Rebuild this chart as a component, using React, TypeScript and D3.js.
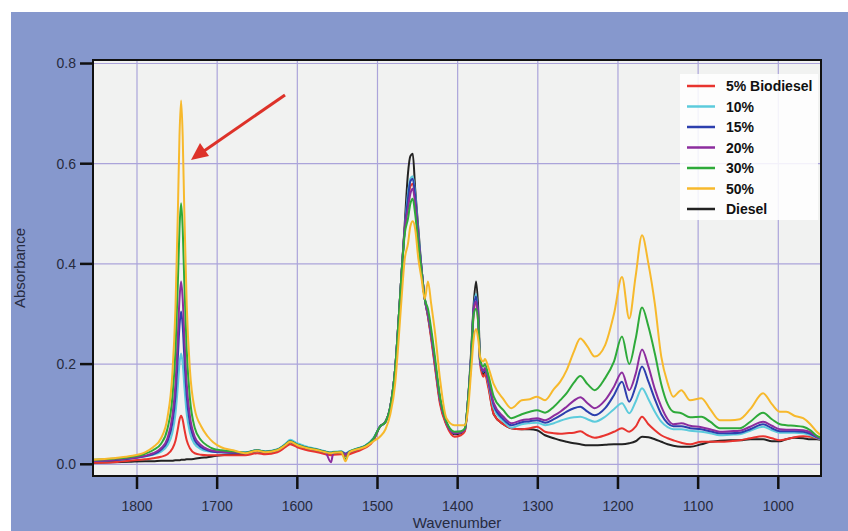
import React from "react";
import * as d3 from "d3";

const wavenumbers = [
  1855, 1830, 1810, 1790, 1780, 1770, 1762, 1756, 1752, 1749, 1747, 1745, 1743, 1741, 1738, 1734, 1728, 1720, 1712, 1705, 1695, 1680,
  1665, 1650, 1640, 1625, 1615, 1609, 1600, 1590, 1575, 1565, 1558, 1555, 1545, 1540, 1535, 1525, 1515, 1505,
  1497, 1490, 1484, 1478, 1474, 1470, 1466, 1462, 1459, 1456, 1453, 1449, 1445, 1441, 1437, 1433, 1428, 1422, 1414, 1404, 1396, 1391, 1387, 1383, 1380, 1377, 1374, 1372, 1368, 1366, 1362,
  1355, 1343, 1333, 1320, 1310, 1301, 1291, 1280, 1272, 1264, 1255, 1247, 1238, 1229, 1216, 1205, 1195, 1186, 1178, 1170, 1162, 1154, 1146, 1138, 1131, 1121, 1110, 1096, 1085, 1073, 1060, 1048, 1035, 1019, 1008, 998, 990, 980, 969, 960, 952, 947,
];

const diesel = [
  0.003, 0.004, 0.005, 0.006, 0.006, 0.007, 0.007, 0.007, 0.008, 0.008, 0.008, 0.009, 0.009, 0.009, 0.010, 0.010, 0.011, 0.013, 0.014, 0.016, 0.018, 0.020,
  0.021, 0.026, 0.023, 0.027, 0.037, 0.044, 0.037, 0.032, 0.027, 0.023, 0.021, 0.022, 0.023, 0.019, 0.023, 0.029, 0.035, 0.049,
  0.075, 0.085, 0.115, 0.19, 0.28, 0.38, 0.48, 0.58, 0.615, 0.62, 0.55, 0.47, 0.39, 0.33, 0.295, 0.255, 0.195, 0.125, 0.08, 0.06, 0.062, 0.068, 0.13, 0.23, 0.32, 0.365, 0.30, 0.21, 0.18, 0.185, 0.16,
  0.1, 0.08, 0.072, 0.07, 0.07, 0.068, 0.058, 0.052, 0.048, 0.045, 0.042, 0.04, 0.038, 0.038, 0.039, 0.04, 0.04, 0.042, 0.046, 0.055, 0.054, 0.05, 0.045, 0.04, 0.037, 0.035, 0.035, 0.04, 0.045, 0.047, 0.048, 0.048, 0.05, 0.05, 0.046, 0.046, 0.05, 0.053, 0.052, 0.05, 0.05, 0.049,
];

const bio5 = [
  0.003, 0.004, 0.007, 0.010, 0.012, 0.015, 0.020, 0.031, 0.047, 0.071, 0.089, 0.097, 0.089, 0.071, 0.048, 0.032, 0.022, 0.019, 0.018, 0.018, 0.018, 0.018,
  0.018, 0.022, 0.020, 0.024, 0.034, 0.040, 0.034, 0.029, 0.024, 0.020, 0.018, 0.019, 0.020, 0.016, 0.020, 0.026, 0.033, 0.047,
  0.075, 0.085, 0.115, 0.19, 0.28, 0.38, 0.47, 0.52, 0.555, 0.56, 0.53, 0.45, 0.385, 0.33, 0.295, 0.25, 0.19, 0.12, 0.078, 0.055, 0.058, 0.066, 0.125, 0.21, 0.30, 0.325, 0.27, 0.20, 0.175, 0.18, 0.155,
  0.1, 0.08, 0.072, 0.07, 0.072, 0.075, 0.065, 0.062, 0.061, 0.062, 0.063, 0.066, 0.058, 0.053, 0.058, 0.065, 0.072, 0.065, 0.075, 0.095, 0.08, 0.068, 0.058, 0.052, 0.048, 0.043, 0.040, 0.045, 0.045, 0.045, 0.046, 0.048, 0.052, 0.056, 0.052, 0.048, 0.05, 0.054, 0.056, 0.055, 0.052, 0.05,
];

const bio10 = [
  0.008, 0.009, 0.012, 0.016, 0.019, 0.025, 0.038, 0.062, 0.101, 0.157, 0.201, 0.221, 0.201, 0.157, 0.101, 0.063, 0.040, 0.030, 0.026, 0.025, 0.024, 0.024,
  0.024, 0.028, 0.026, 0.030, 0.041, 0.049, 0.042, 0.036, 0.030, 0.026, 0.024, 0.025, 0.026, 0.022, 0.026, 0.032, 0.038, 0.053,
  0.075, 0.085, 0.115, 0.19, 0.28, 0.38, 0.47, 0.54, 0.57, 0.575, 0.54, 0.46, 0.39, 0.33, 0.30, 0.26, 0.20, 0.13, 0.083, 0.062, 0.064, 0.07, 0.13, 0.22, 0.31, 0.34, 0.28, 0.205, 0.185, 0.19, 0.165,
  0.112, 0.086, 0.073, 0.08, 0.082, 0.083, 0.078, 0.082, 0.087, 0.091, 0.094, 0.095, 0.09, 0.085, 0.095, 0.11, 0.122, 0.102, 0.125, 0.152, 0.13, 0.105, 0.085, 0.074, 0.07, 0.07, 0.067, 0.065, 0.062, 0.058, 0.059, 0.06, 0.067, 0.075, 0.068, 0.063, 0.063, 0.063, 0.062, 0.058, 0.053, 0.05,
];

const bio15 = [
  0.007, 0.008, 0.011, 0.016, 0.020, 0.029, 0.046, 0.081, 0.136, 0.215, 0.276, 0.305, 0.276, 0.215, 0.136, 0.082, 0.048, 0.034, 0.028, 0.025, 0.024, 0.023,
  0.023, 0.028, 0.025, 0.029, 0.039, 0.046, 0.039, 0.034, 0.029, 0.025, 0.023, 0.024, 0.025, 0.021, 0.025, 0.031, 0.037, 0.051,
  0.075, 0.085, 0.115, 0.19, 0.28, 0.38, 0.47, 0.53, 0.565, 0.57, 0.535, 0.455, 0.39, 0.33, 0.30, 0.26, 0.20, 0.13, 0.083, 0.062, 0.064, 0.07, 0.13, 0.22, 0.31, 0.335, 0.28, 0.205, 0.185, 0.19, 0.167,
  0.118, 0.09, 0.078, 0.084, 0.086, 0.088, 0.083, 0.09, 0.097, 0.105, 0.112, 0.115, 0.105, 0.098, 0.112, 0.138, 0.165, 0.125, 0.155, 0.195, 0.165, 0.13, 0.1, 0.082, 0.076, 0.076, 0.072, 0.07, 0.066, 0.062, 0.062, 0.063, 0.07, 0.08, 0.072, 0.066, 0.066, 0.066, 0.065, 0.061, 0.054, 0.051,
];

const bio20 = [
  0.007, 0.009, 0.012, 0.017, 0.022, 0.032, 0.052, 0.095, 0.161, 0.257, 0.330, 0.365, 0.330, 0.257, 0.161, 0.096, 0.055, 0.038, 0.030, 0.027, 0.025, 0.024,
  0.022, 0.027, 0.024, 0.028, 0.038, 0.045, 0.038, 0.033, 0.028, 0.024, 0.004, 0.023, 0.024, 0.020, 0.024, 0.030, 0.036, 0.050,
  0.075, 0.085, 0.115, 0.19, 0.28, 0.38, 0.47, 0.51, 0.54, 0.55, 0.52, 0.45, 0.39, 0.33, 0.30, 0.26, 0.20, 0.13, 0.083, 0.062, 0.064, 0.07, 0.13, 0.22, 0.31, 0.325, 0.28, 0.205, 0.187, 0.192, 0.17,
  0.122, 0.095, 0.082, 0.088, 0.09, 0.092, 0.088, 0.097, 0.105, 0.115, 0.127, 0.134, 0.122, 0.112, 0.128, 0.155, 0.183, 0.148, 0.18, 0.229, 0.195, 0.15, 0.115, 0.09, 0.08, 0.082, 0.077, 0.074, 0.07, 0.065, 0.066, 0.067, 0.075, 0.085, 0.077, 0.07, 0.069, 0.069, 0.068, 0.064, 0.055, 0.052,
];

const bio30 = [
  0.009, 0.011, 0.014, 0.021, 0.028, 0.041, 0.071, 0.131, 0.227, 0.364, 0.471, 0.521, 0.471, 0.364, 0.228, 0.132, 0.073, 0.048, 0.037, 0.031, 0.028, 0.026,
  0.023, 0.028, 0.025, 0.029, 0.039, 0.046, 0.039, 0.034, 0.029, 0.025, 0.023, 0.024, 0.025, 0.010, 0.025, 0.031, 0.037, 0.051,
  0.075, 0.085, 0.115, 0.19, 0.28, 0.38, 0.46, 0.49, 0.52, 0.53, 0.50, 0.44, 0.385, 0.33, 0.31, 0.27, 0.21, 0.135, 0.085, 0.065, 0.066, 0.072, 0.13, 0.215, 0.30, 0.31, 0.275, 0.21, 0.195, 0.2, 0.18,
  0.135, 0.108, 0.092, 0.1, 0.105, 0.108, 0.103, 0.115, 0.128, 0.142, 0.163, 0.176, 0.16, 0.148, 0.172, 0.205, 0.255, 0.2, 0.25, 0.313, 0.275, 0.221, 0.16, 0.12, 0.105, 0.102, 0.094, 0.095, 0.085, 0.072, 0.072, 0.072, 0.085, 0.103, 0.09, 0.08, 0.078, 0.077, 0.075, 0.068, 0.057, 0.053,
];

const bio50 = [
  0.009, 0.012, 0.016, 0.024, 0.034, 0.052, 0.093, 0.178, 0.313, 0.506, 0.655, 0.726, 0.655, 0.506, 0.319, 0.189, 0.110, 0.076, 0.056, 0.044, 0.034, 0.028,
  0.022, 0.027, 0.024, 0.028, 0.038, 0.045, 0.038, 0.033, 0.028, 0.024, 0.022, 0.023, 0.024, 0.006, 0.024, 0.030, 0.035, 0.046,
  0.055, 0.07, 0.10, 0.16, 0.24, 0.33, 0.41, 0.44, 0.475, 0.485, 0.47, 0.41, 0.37, 0.33, 0.365, 0.32, 0.26, 0.17, 0.092, 0.078, 0.078, 0.078, 0.11, 0.19, 0.25, 0.27, 0.245, 0.215, 0.205, 0.21, 0.195,
  0.16, 0.13, 0.112, 0.128, 0.13, 0.135, 0.128, 0.15, 0.165, 0.188, 0.225, 0.251, 0.235, 0.215, 0.238, 0.30, 0.374, 0.291, 0.375, 0.457, 0.40, 0.32, 0.215, 0.162, 0.135, 0.148, 0.128, 0.132, 0.11, 0.088, 0.088, 0.09, 0.11, 0.142, 0.12, 0.105, 0.105, 0.097, 0.092, 0.08, 0.065, 0.058,
];

const seriesNames = ["5% Biodiesel", "10%", "15%", "20%", "30%", "50%", "Diesel"];
const seriesColors = ["#e8342f", "#5ccbdc", "#2c3fae", "#8c2d9e", "#2eaa3a", "#f7b92c", "#222222"];
const seriesValues = [bio5, bio10, bio15, bio20, bio30, bio50, diesel];
const drawOrder = [6, 0, 1, 2, 3, 4, 5];

const xTicks = [1800, 1700, 1600, 1500, 1400, 1300, 1200, 1100, 1000];
const yTicks = [0.0, 0.2, 0.4, 0.6, 0.8];

const W = 848;
const H = 531;
const plot = { left: 93, right: 821, top: 60, bottom: 476 };

export default function App() {
  const x = d3.scaleLinear().domain([1800, 1000]).range([137, 778.3]);
  const y = d3.scaleLinear().domain([0, 0.8]).range([464.3, 63.5]);
  const line = d3
    .line<number>()
    .x((_, i) => x(wavenumbers[i]))
    .y((d) => y(d))
    .curve(d3.curveMonotoneX);

  const font = "'Liberation Sans', Arial, Helvetica, sans-serif";
  const textColor = "#262b40";

  return (
    <svg
      width={W}
      height={H}
      style={{ position: "absolute", left: 0, top: 0, display: "block" }}
      fontFamily={font}
    >
      <rect x={0} y={0} width={W} height={H} fill="#ffffff" />
      <rect x={11} y={12} width={W - 11} height={H - 12} fill="#8698cd" />
      <defs>
        <clipPath id="plotclip">
          <rect x={plot.left} y={plot.top} width={plot.right - plot.left} height={plot.bottom - plot.top} />
        </clipPath>
      </defs>
      <rect
        x={plot.left}
        y={plot.top}
        width={plot.right - plot.left}
        height={plot.bottom - plot.top}
        fill="#f1f2f1"
      />
      {xTicks.map((t) => (
        <line key={"gx" + t} x1={x(t)} x2={x(t)} y1={plot.top} y2={plot.bottom} stroke="#aba4da" strokeWidth={1.2} />
      ))}
      {yTicks.map((t) => (
        <line key={"gy" + t} x1={plot.left} x2={plot.right} y1={y(t)} y2={y(t)} stroke="#aba4da" strokeWidth={1.2} />
      ))}
      <rect x={680} y={74} width={138} height={146} fill="#ffffff" opacity={0.85} />
      <g clipPath="url(#plotclip)">
        {drawOrder.map((si) => (
          <path
            key={seriesNames[si]}
            d={line(seriesValues[si]) || ""}
            fill="none"
            stroke={seriesColors[si]}
            strokeWidth={2}
            strokeLinejoin="round"
          />
        ))}
      </g>
      <rect
        x={plot.left}
        y={plot.top}
        width={plot.right - plot.left}
        height={plot.bottom - plot.top}
        fill="none"
        stroke="#111"
        strokeWidth={2}
      />
      {xTicks.map((t) => (
        <g key={"xt" + t}>
          <line x1={x(t)} x2={x(t)} y1={plot.bottom} y2={plot.bottom + 13} stroke="#111" strokeWidth={2.5} />
          <text x={x(t)} y={511} textAnchor="middle" fontSize={14} fill={textColor}>
            {t}
          </text>
        </g>
      ))}
      {yTicks.map((t) => (
        <g key={"yt" + t}>
          <line x1={plot.left - 13} x2={plot.left} y1={y(t)} y2={y(t)} stroke="#111" strokeWidth={2.5} />
          <text x={76} y={y(t)} dy="0.35em" textAnchor="end" fontSize={14} fill={textColor}>
            {t.toFixed(1)}
          </text>
        </g>
      ))}
      <text x={457} y={528} textAnchor="middle" fontSize={15} fill={textColor}>
        Wavenumber
      </text>
      <text
        transform={`translate(25,${(plot.top + plot.bottom) / 2}) rotate(-90)`}
        textAnchor="middle"
        fontSize={15}
        fill={textColor}
      >
        Absorbance
      </text>
      {seriesNames.map((name, i) => (
        <g key={"lg" + name} transform={`translate(0,${86 + i * 20.5})`}>
          <line x1={687} x2={715} y1={0} y2={0} stroke={seriesColors[i]} strokeWidth={2.5} />
          <text x={726} y={0} dy="0.36em" fontSize={14} fontWeight="bold" fill="#111">
            {name}
          </text>
        </g>
      ))}
      <line x1={285} y1={95} x2={204} y2={151} stroke="#dd3229" strokeWidth={3} />
      <path d="M191,160 L200,143 L209,156 Z" fill="#dd3229" />
    </svg>
  );
}
